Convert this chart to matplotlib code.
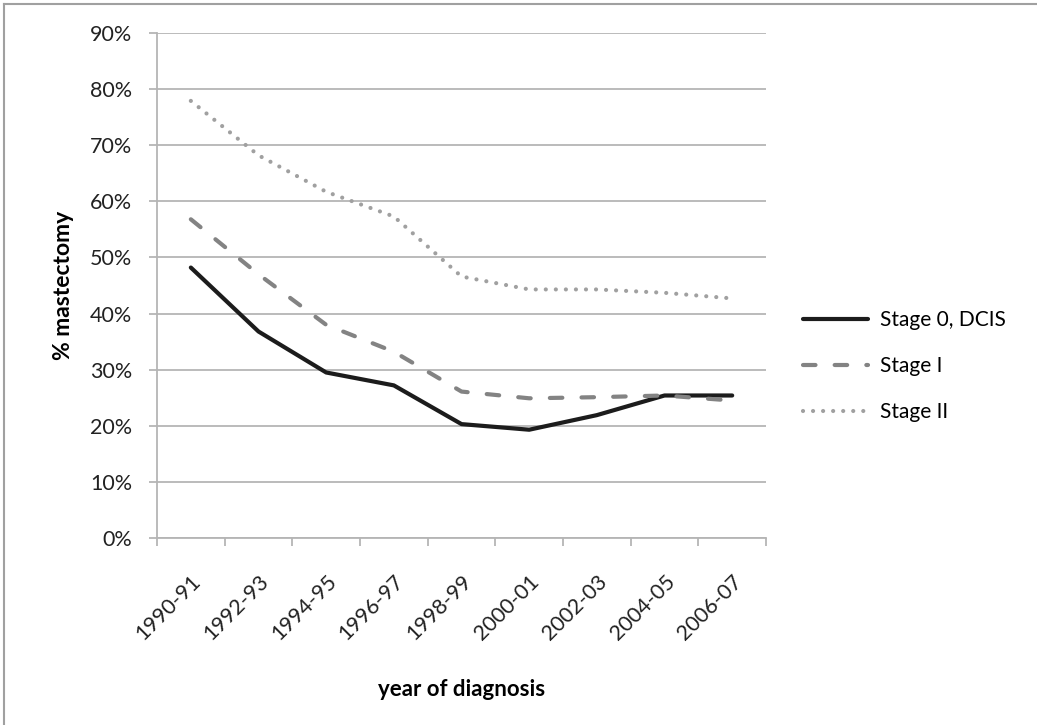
import matplotlib as mpl
mpl.use('agg')
import matplotlib.pyplot as plt
from matplotlib.lines import Line2D
import numpy as np

# periods of diagnosis
periods = ['1990-91', '1992-93', '1994-95', '1996-97', '1998-99',
           '2000-01', '2002-03', '2004-05', '2006-07']

# % mastectomy by stage
stage0 = [48.2, 36.8, 29.5, 27.2, 20.3, 19.3, 21.9, 25.4, 25.4]
stage1 = [56.8, 47.0, 38.0, 33.2, 26.1, 24.9, 25.1, 25.4, 24.5]
stage2 = [77.9, 68.2, 61.7, 57.3, 46.6, 44.3, 44.3, 43.7, 42.7]

plt.rcParams['font.family'] = ['Lato', 'DejaVu Sans']

fig = plt.figure(figsize=(10.37, 7.25), dpi=100)
ax = fig.add_axes([0.1514, 0.2579, 0.5873, 0.6966])

x = np.arange(len(periods)) + 0.5
ax.plot(x, stage0, color='#1c1c1c', lw=3.0, solid_capstyle='round',
        solid_joinstyle='round', label='Stage 0, DCIS', zorder=3)
ax.plot(x, stage1, color='#838383', lw=3.0, dashes=(3.0, 4.6),
        dash_capstyle='round', label='Stage I', zorder=3)
ax.plot(x, stage2, color='#a0a0a0', lw=3.0, dashes=(0.01, 2.4),
        dash_capstyle='round', label='Stage II', zorder=3)

ax.set_xlim(0, len(periods))
ax.set_ylim(0, 90)

grid_c = '#b5b5b5'
ax.set_yticks(np.arange(0, 91, 10))
ax.set_yticklabels(['%d%%' % v for v in range(0, 91, 10)])
ax.yaxis.grid(True, color=grid_c, lw=1.3)
ax.set_axisbelow(True)

# category labels at centres, tick marks on the boundaries
ax.set_xticks(x)
ax.set_xticklabels(periods, rotation=45, ha='right', rotation_mode='anchor')
ax.set_xticks(np.arange(len(periods) + 1), minor=True)
ax.tick_params(axis='x', which='major', length=0, pad=24)
ax.tick_params(axis='x', which='minor', length=6, color=grid_c, width=1.3, direction='out')
ax.tick_params(axis='y', length=6, color=grid_c, width=1.3, pad=12)
ax.tick_params(labelsize=15.5, labelcolor='#222222')

for s in ['top', 'right']:
    ax.spines[s].set_visible(False)
for s in ['left', 'bottom']:
    ax.spines[s].set_color(grid_c)
    ax.spines[s].set_linewidth(1.3)

ax.set_ylabel('% mastectomy', fontsize=16.5, fontweight='bold')
ax.yaxis.set_label_coords(-0.137, 0.5)
ax.set_xlabel('year of diagnosis', fontsize=16, fontweight='bold')
ax.xaxis.set_label_coords(0.5, -0.279)

ax.legend(loc='center left', bbox_to_anchor=(1.03, 0.34), frameon=False,
          fontsize=15, handlelength=3.1, handletextpad=0.6, labelspacing=1.25)

# outer chart border (top and left edges visible)
fig.add_artist(Line2D([0.004, 1.0], [0.995, 0.995], color='#a0a0a0', lw=1.5,
                      transform=fig.transFigure))
fig.add_artist(Line2D([0.004, 0.004], [0.0, 0.995], color='#a0a0a0', lw=1.5,
                      transform=fig.transFigure))

fig.savefig('out.png', dpi=100)
